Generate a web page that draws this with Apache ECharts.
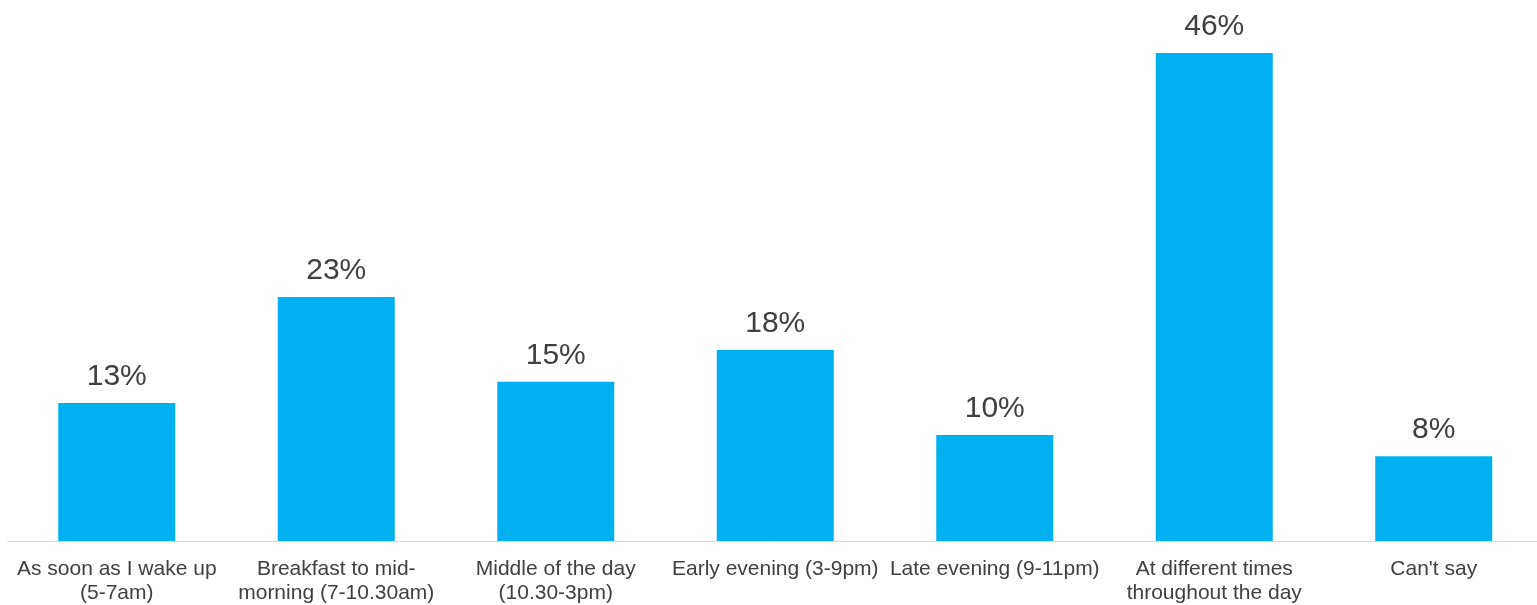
<!DOCTYPE html>
<html>
<head>
<meta charset="utf-8">
<script src="https://cdn.jsdelivr.net/npm/echarts@6/dist/echarts.min.js"></script>
<style>
  html, body { margin: 0; padding: 0; background: #ffffff; overflow: hidden; }
  #chart { width: 1545px; height: 605px; }
</style>
</head>
<body>
<div id="chart"></div>
<script>
// Time-of-day categories (line breaks as shown under the axis)
const categories = [
  'As soon as I wake up\n(5-7am)',
  'Breakfast to mid-\nmorning (7-10.30am)',
  'Middle of the day\n(10.30-3pm)',
  'Early evening (3-9pm)',
  'Late evening (9-11pm)',
  'At different times\nthroughout the day',
  "Can't say"
];
// Share of respondents, percent
const shares = [13, 23, 15, 18, 10, 46, 8];

const chart = echarts.init(document.getElementById('chart'), null, { renderer: 'canvas' });
chart.setOption({
  animation: false,
  backgroundColor: '#ffffff',
  grid: { left: 7, right: 1.5, top: 53, bottom: 61, containLabel: false },
  xAxis: {
    type: 'category',
    data: categories,
    axisLine: { show: true, lineStyle: { color: '#d9d9d9', width: 1 } },
    axisTick: { show: false },
    axisLabel: {
      interval: 0,
      margin: 16,
      color: '#404040',
      fontFamily: 'Liberation Sans, Arial, sans-serif',
      fontSize: 21,
      lineHeight: 24
    }
  },
  yAxis: {
    type: 'value',
    min: 0,
    max: 46,
    show: false,
    splitLine: { show: false }
  },
  series: [{
    type: 'bar',
    data: shares,
    barWidth: 117,
    itemStyle: { color: '#00b0f0' },
    label: {
      show: true,
      position: 'top',
      distance: 11,
      formatter: p => p.value + '%',
      color: '#404040',
      fontFamily: 'Liberation Sans, Arial, sans-serif',
      fontSize: 30
    }
  }]
});
</script>
</body>
</html>
